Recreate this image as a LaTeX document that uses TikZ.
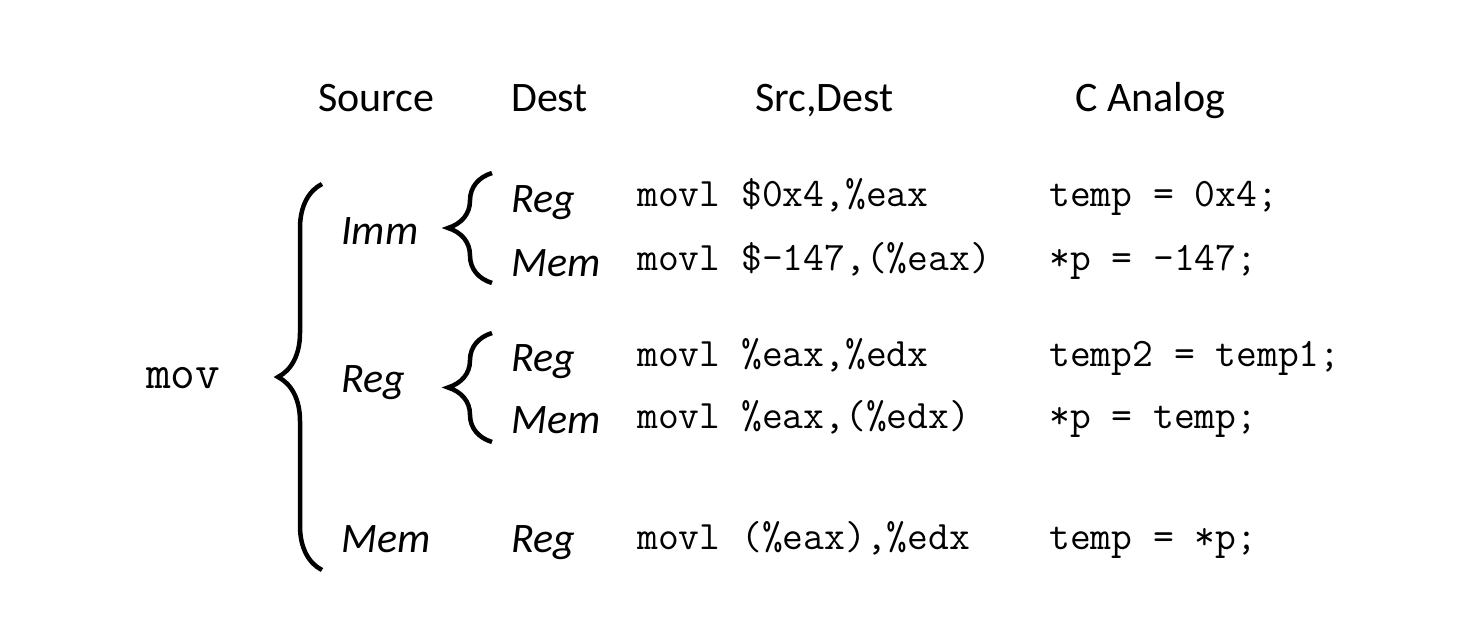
\documentclass[tikz,border=0pt]{standalone}
\usepackage{fontspec}
\setmainfont{Carlito}
\usetikzlibrary{decorations.pathreplacing}

\begin{document}
\begin{tikzpicture}[
    x = 1pt,
    y = -1pt,
    head/.style = {
      anchor = base west,
      inner sep = 0pt,
      font = \fontsize{42}{48}\selectfont
    },
    kind/.style = {
      anchor = base west,
      inner sep = 0pt,
      font = \fontsize{42}{48}\selectfont\itshape
    },
    code/.style = {
      anchor = base west,
      inner sep = 0pt,
      font = \fontsize{40.4}{46}\selectfont\ttfamily
    },
    curly/.style = {
      decorate,
      decoration = {brace, amplitude = 44pt},
      line width = 4.5pt
    }
  ]
  \useasboundingbox (0,0) rectangle (1464,639);

  % column heads
  \node[head] (hsrc) at (318,112) {Source};
  \node[head] (hdst) at (511,112) {Dest};
  \node[head] (hop) at (755,112) {Src,Dest};
  \node[head] (hc) at (1075,112) {C Analog};

  \node[code, font = \fontsize{48}{54}\selectfont\ttfamily] (mov) at (146,388) {mov};

  % sources
  \node[kind] (imm) at (341,244) {Imm};
  \node[kind] (reg) at (341,392) {Reg};
  \node[kind] (mem) at (341,552) {Mem};

  % destinations
  \node[kind] (immreg) at (511,213) {Reg};
  \node[kind] (immmem) at (511,276) {Mem};
  \node[kind] (regreg) at (511,371) {Reg};
  \node[kind] (regmem) at (511,433) {Mem};
  \node[kind] (memreg) at (511,552) {Reg};

  % instructions
  \node[code] (i1) at (637,207) {movl \$0x4,\%eax};
  \node[code] (i2) at (637,270) {movl \$-147,(\%eax)};
  \node[code] (i3) at (637,366) {movl \%eax,\%edx};
  \node[code] (i4) at (637,428) {movl \%eax,(\%edx)};
  \node[code] (i5) at (637,549) {movl (\%eax),\%edx};

  % C analogs
  \node[code] (c1) at (1049,207) {temp = 0x4;};
  \node[code] (c2) at (1049,270) {*p = -147;};
  \node[code] (c3) at (1049,366) {temp2 = temp1;};
  \node[code] (c4) at (1049,428) {*p = temp;};
  \node[code] (c5) at (1049,549) {temp = *p;};

  % braces
  \coordinate (movtop) at (322,184);
  \coordinate (movbot) at (322,570);
  \coordinate (immtop) at (492,173);
  \coordinate (immbot) at (492,283);
  \coordinate (regtop) at (492,333);
  \coordinate (regbot) at (492,442);

  \draw[curly] (movbot) -- (movtop);
  \draw[curly] (immbot) -- (immtop);
  \draw[curly] (regbot) -- (regtop);

\end{tikzpicture}
\end{document}
